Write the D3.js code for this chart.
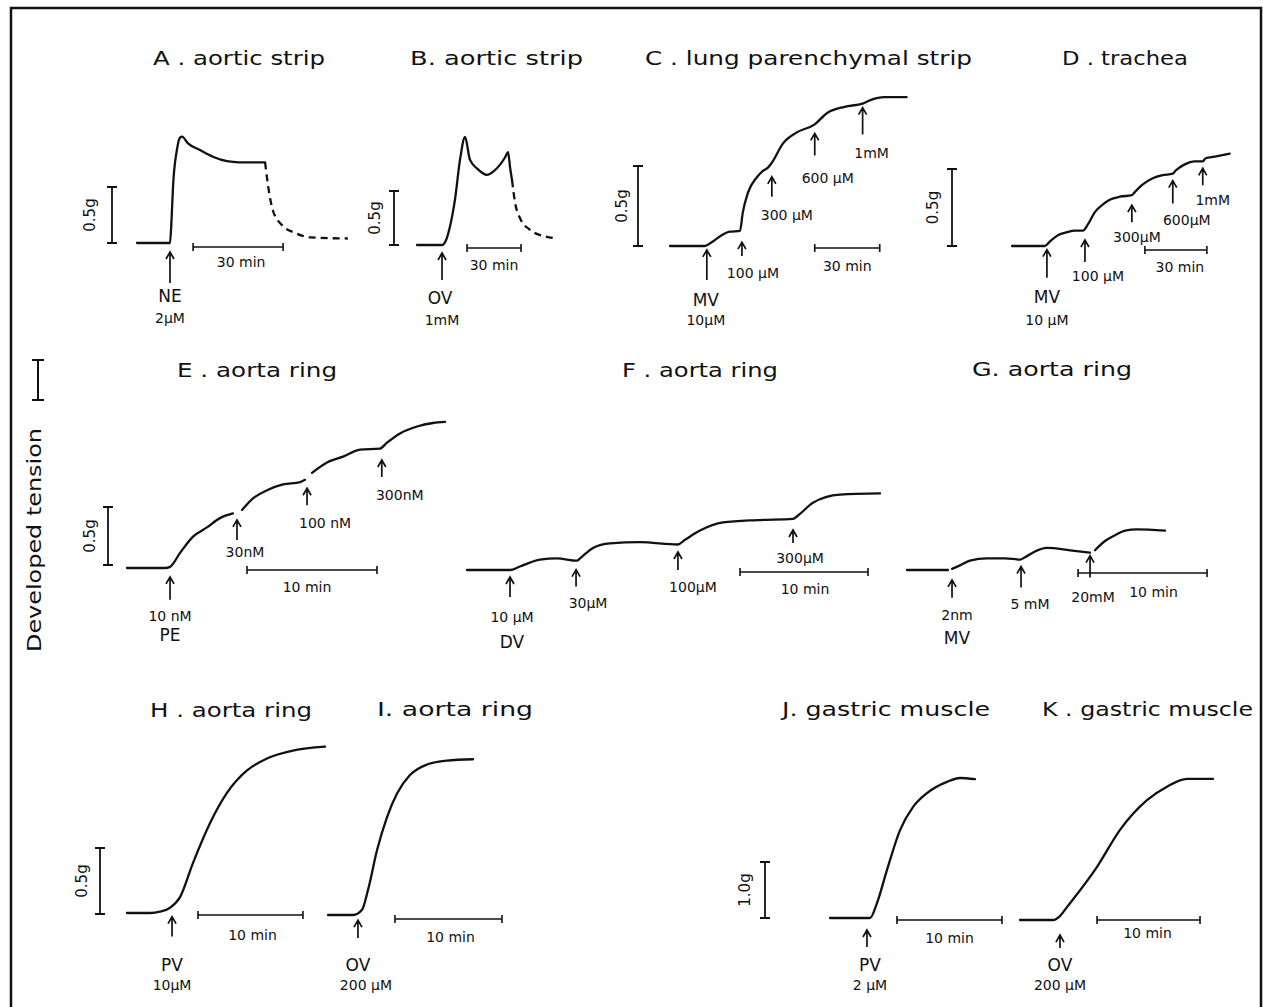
<!DOCTYPE html>
<html>
<head>
<meta charset="utf-8">
<title>Developed tension traces</title>
<script src="https://cdn.jsdelivr.net/npm/d3@7"></script>
<style>
  body { margin: 0; background: #fff; }
  svg text { font-family: "DejaVu Sans", sans-serif; fill: #111; }
</style>
</head>
<body>
<script>
// traces: [minutes from trace start, grams above baseline]
var traceA = [[0,0],[11,0],[11.5,0.2],[12,0.5],[13.3,0.83],[14.3,0.94],[15,0.95],[17,0.89],[21,0.83],[25.3,0.77],[30,0.73],[34,0.72],[42.7,0.72]];
var traceADash = [[42.7,0.72],[43.7,0.51],[45.3,0.29],[48.3,0.16],[52.7,0.09],[57.7,0.05],[70.3,0.04]];
var traceB = [[0,0],[13.9,0],[16,0.04],[18.3,0.17],[21.1,0.42],[23.9,0.79],[26.7,1.0],[29.4,0.79],[33.3,0.71],[38.9,0.65],[44.4,0.71],[48.9,0.81],[50.6,0.86],[51.7,0.72],[52.8,0.6]];
var traceBDash = [[52.8,0.6],[54.4,0.4],[57.2,0.25],[62.8,0.14],[71.1,0.08],[77.8,0.06]];
var traceC = [[0,0],[16.1,0],[19.4,0.025],[23,0.06],[27.6,0.09],[32.3,0.094],[33.6,0.21],[35.9,0.33],[40.1,0.43],[42.9,0.47],[45.2,0.49],[47,0.52],[52.1,0.64],[58.5,0.71],[66.8,0.76],[72.4,0.83],[80.6,0.87],[88.9,0.89],[92.2,0.91],[99.1,0.93],[109.2,0.93]];
var traceD = [[0,0],[15.9,0],[18.4,0.03],[22.2,0.07],[26.6,0.09],[30.4,0.1],[34.3,0.1],[36.7,0.14],[40.1,0.22],[44,0.27],[47.3,0.3],[52.2,0.32],[58,0.33],[59.4,0.35],[63.3,0.4],[68.1,0.44],[72.9,0.46],[77.8,0.47],[79.2,0.49],[83.6,0.53],[88.4,0.55],[92.3,0.55],[93.7,0.57],[98.1,0.58],[105.3,0.6]];
var traceE1 = [[0,0],[2.92,0],[3.31,0.01],[4.08,0.13],[5.08,0.27],[6.15,0.35],[7.15,0.43],[8.15,0.47]];
var traceE2 = [[8.85,0.5],[9.69,0.6],[10.77,0.67],[12,0.72],[13.31,0.74],[13.69,0.76]];
var traceE3 = [[14.23,0.82],[15.38,0.91],[16.62,0.96],[17.92,1.02],[19.46,1.03],[20,1.08],[21,1.16],[22.31,1.22],[23.54,1.25],[24.46,1.26]];
var traceF = [[0,0],[3.36,0],[4.14,0.03],[5.7,0.09],[7.03,0.1],[8.59,0.08],[8.83,0.1],[9.84,0.19],[11.17,0.23],[13.52,0.24],[16.48,0.22],[17.03,0.26],[18.2,0.34],[20,0.41],[22.66,0.43],[25.47,0.44],[25.86,0.47],[27.03,0.58],[29.14,0.65],[32.27,0.66]];
var traceG1 = [[0,0],[3.18,0]];
var traceG2 = [[3.49,0.01],[4.11,0.04],[4.88,0.08],[6.2,0.1],[7.6,0.1],[8.76,0.09],[9.15,0.11],[9.92,0.16],[10.85,0.19],[12.64,0.17],[14.19,0.15]];
var traceG3 = [[14.57,0.17],[15.35,0.25],[16.12,0.3],[16.9,0.34],[17.83,0.35],[20,0.34]];
var traceH = [[0,0],[2.2,0],[3.14,0.01],[4.1,0.04],[5.05,0.12],[6.29,0.38],[7.9,0.68],[9.52,0.91],[11.43,1.08],[13.33,1.17],[15.81,1.23],[18.86,1.26]];
var traceI = [[0,0],[2.34,0],[3.18,0.04],[3.74,0.19],[4.58,0.49],[5.51,0.74],[6.45,0.92],[7.66,1.06],[9.25,1.14],[11.12,1.17],[13.55,1.18]];
var traceJ = [[0,0],[3.81,0],[4.48,0.27],[5.43,0.86],[6.67,1.57],[7.9,1.98],[9.24,2.23],[11.14,2.43],[12.38,2.5],[13.81,2.48]];
var traceK = [[0,0],[3.2,0],[3.88,0.07],[4.56,0.23],[7.48,0.95],[9.71,1.61],[12.33,2.14],[14.27,2.38],[16.21,2.52],[18.74,2.52]];

// drug additions: time (min) and label lines
var dosesA = [{t: 11, text: ["NE", "2µM"]}];
var dosesB = [{t: 13.9, text: ["OV", "1mM"]}];
var dosesC = [{t: 17, text: ["MV", "10µM"]}, {t: 33.2, text: ["100 µM"]}, {t: 47, text: ["300 µM"]}, {t: 66.8, text: ["600 µM"]}, {t: 88.9, text: ["1mM"]}];
var dosesD = [{t: 16.9, text: ["MV", "10 µM"]}, {t: 35.3, text: ["100 µM"]}, {t: 58, text: ["300µM"]}, {t: 77.8, text: ["600µM"]}, {t: 92.3, text: ["1mM"]}];
var dosesE = [{t: 3.31, text: ["10 nM", "PE"]}, {t: 8.46, text: ["30nM"]}, {t: 13.85, text: ["100 nM"]}, {t: 19.6, text: ["300nM"]}];
var dosesF = [{t: 3.36, text: ["10 µM", "DV"]}, {t: 8.52, text: ["30µM"]}, {t: 16.48, text: ["100µM"]}, {t: 25.47, text: ["300µM"]}];
var dosesG = [{t: 3.49, text: ["2nm", "MV"]}, {t: 8.84, text: ["5 mM"]}, {t: 14.19, text: ["20mM"]}];
var dosesH = [{t: 4.29, text: ["PV", "10µM"]}];
var dosesI = [{t: 2.8, text: ["OV", "200 µM"]}];
var dosesJ = [{t: 3.52, text: ["PV", "2 µM"]}];
var dosesK = [{t: 3.88, text: ["OV", "200 µM"]}];

// calibration: minutes of each time bar, grams of each tension bar
var timeBarMin = {A: 30, B: 30, C: 30, D: 30, E: 10, F: 10, G: 10, H: 10, I: 10, J: 10, K: 10};
var tensionG = {A: 0.5, B: 0.5, C: 0.5, D: 0.5, E: 0.5, F: 0.5, G: 0.5, H: 0.5, I: 0.5, J: 1.0, K: 1.0};

var titles = {
  A: "A . aortic strip", B: "B. aortic strip", C: "C . lung parenchymal strip", D: "D . trachea",
  E: "E . aorta ring", F: "F . aorta ring", G: "G. aorta ring",
  H: "H . aorta ring", I: "I. aorta ring", J: "J. gastric muscle", K: "K . gastric muscle"
};

// page layout of each panel
var panels = [
  {id: "A", x0: 137, y0: 243, mPx: 90, gPx: 56, title: [153, 65, 172], traces: [traceA], dashed: [traceADash], doses: dosesA,
   arrows: [[9, 31, [[0, 13], [0, 35]]]], tbar: [18.7, 4, 3, 15], gbar: [112, 0, 90]},
  {id: "B", x0: 417, y0: 245, mPx: 54, gPx: 54, title: [410, 65, 173], traces: [traceB], dashed: [traceBDash], doses: dosesB,
   arrows: [[8, 27, [[-2, 18], [0, 40]]]], tbar: [27.8, 3, 0, 17], gbar: [394, 0, 375]},
  {id: "C", x0: 670, y0: 246, mPx: 65, gPx: 80, title: [645, 65, 327], traces: [traceC], dashed: [], doses: dosesC,
   arrows: [[5, 30, [[-1, 20], [-1, 40]]], [24, 14, [[11, 17]]], [14, 20, [[15, 18]]], [9, 22, [[13, 23]]], [4, 27, [[9, 18]]]],
   tbar: [66.8, 2, 0, 18], gbar: [638, 0, 622]},
  {id: "D", x0: 1012, y0: 246, mPx: 62, gPx: 77, title: [1062, 65, 126], traces: [traceD], dashed: [], doses: dosesD,
   arrows: [[5.5, 28, [[0, 19], [0, 42]]], [12, 22, [[13, 14]]], [10, 17, [[5, 15]]], [7, 23, [[14, 16]]], [7, 17, [[10, 15]]]],
   tbar: [64.3, 4, 4, 17], gbar: [952, 0, 933]},
  {id: "E", x0: 127, y0: 568, mPx: 130, gPx: 58, title: [177, 377, 160], traces: [traceE1, traceE2, traceE3], dashed: [], doses: dosesE,
   arrows: [[10, 23, [[0, 16], [0, 35]]], [8, 20, [[8, 12]]], [10.5, 17, [[18, 18]]], [13, 17, [[18, 18]]]],
   tbar: [9.23, 2, -5, 17], gbar: [108, -3, 90]},
  {id: "F", x0: 467, y0: 570, mPx: 128, gPx: 58, title: [622, 377, 156], traces: [traceF], dashed: [], doses: dosesF,
   arrows: [[7, 20, [[2, 20], [2, 45]]], [9, 17, [[12, 16]]], [7.5, 18, [[15, 17]]], [11, 13, [[7, 15]]]],
   tbar: [21.33, 2, 1, 17]},
  {id: "G", x0: 907, y0: 570, mPx: 129, gPx: 58, title: [972, 376, 160], traces: [traceG1, traceG2, traceG3], dashed: [], doses: dosesG,
   arrows: [[11, 18, [[5, 17], [5, 40]]], [7.5, 21, [[9, 16]]], [3, 22, [[3, 19]]]],
   tbar: [13.26, 3, 11, 19]},
  {id: "H", x0: 127, y0: 913, mPx: 105, gPx: 66, title: [150, 717, 162], traces: [traceH], dashed: [], doses: dosesH,
   arrows: [[11, 20, [[0, 28], [0, 48]]]], tbar: [6.76, 2, 2, 20], gbar: [100, 1, 82]},
  {id: "I", x0: 328, y0: 915, mPx: 107, gPx: 66, title: [377, 716, 156], traces: [traceI], dashed: [], doses: dosesI,
   arrows: [[8, 18, [[0, 27], [8, 47]]]], tbar: [6.26, 4, 2, 18]},
  {id: "J", x0: 830, y0: 918, mPx: 105, gPx: 56, title: [782, 716, 208], traces: [traceJ], dashed: [], doses: dosesJ,
   arrows: [[12, 17, [[3, 18], [3, 38]]]], tbar: [6.38, 2, 0, 18], gbar: [765, 0, 745]},
  {id: "K", x0: 1020, y0: 920, mPx: 103, gPx: 56, title: [1042, 716, 211], traces: [traceK], dashed: [], doses: dosesK,
   arrows: [[19, 13, [[0, 17], [0, 37]]]], tbar: [7.48, 0, -1, 13]}
];

var W = 1263, H = 1007;
var svg = d3.select("body").append("svg")
    .attr("width", W)
    .attr("height", H);

svg.append("rect").attr("width", W).attr("height", H).attr("fill", "#fff");

// frame round the figure
svg.append("path")
    .attr("d", "M11,1010V8H1261V1010")
    .attr("fill", "none")
    .attr("stroke", "#111")
    .attr("stroke-width", 2.5);

// shared y label with its calibration bar
svg.append("text")
    .attr("transform", "translate(34,540) rotate(-90)")
    .attr("text-anchor", "middle")
    .attr("dominant-baseline", "central")
    .attr("textLength", 224)
    .attr("lengthAdjust", "spacingAndGlyphs")
    .style("font-size", "20px")
    .text("Developed tension");
svg.append("path")
    .attr("d", "M38,360V400M32,360H44M32,400H44")
    .attr("fill", "none")
    .attr("stroke", "#111")
    .attr("stroke-width", 2);

// tension at time t
function levelAt(traces, t) {
  var all = [];
  traces.forEach(function(tr) { all = all.concat(tr); });
  all.sort(function(a, b) { return a[0] - b[0]; });
  if (t <= all[0][0]) return all[0][1];
  for (var i = 1; i < all.length; i++) {
    if (t <= all[i][0]) {
      var a = all[i - 1], b = all[i];
      var f = (b[0] - a[0]) === 0 ? 0 : (t - a[0]) / (b[0] - a[0]);
      return a[1] + f * (b[1] - a[1]);
    }
  }
  return all[all.length - 1][1];
}

function drawPanel(p) {
  var minRef = timeBarMin[p.id];
  var gRef = tensionG[p.id];

  var x = d3.scaleLinear().domain([0, minRef]).range([p.x0, p.x0 + p.mPx]);
  var y = d3.scaleLinear().domain([0, gRef]).range([p.y0, p.y0 - p.gPx]);

  var line = d3.line()
      .x(function(d) { return x(d[0]); })
      .y(function(d) { return y(d[1]); })
      .curve(d3.curveMonotoneX);

  var g = svg.append("g").attr("class", "panel-" + p.id);

  // title
  g.append("text")
      .attr("x", p.title[0])
      .attr("y", p.title[1])
      .attr("textLength", p.title[2])
      .attr("lengthAdjust", "spacingAndGlyphs")
      .style("font-size", "20px")
      .text(titles[p.id]);

  // recordings
  g.selectAll("path.trace")
      .data(p.traces)
      .enter()
      .append("path")
      .attr("class", "trace")
      .attr("d", line)
      .attr("fill", "none")
      .attr("stroke", "#111")
      .attr("stroke-width", 2.3)
      .attr("stroke-linecap", "round")
      .attr("stroke-linejoin", "round");

  g.selectAll("path.washout")
      .data(p.dashed)
      .enter()
      .append("path")
      .attr("class", "washout")
      .attr("d", line)
      .attr("fill", "none")
      .attr("stroke", "#111")
      .attr("stroke-width", 2.3)
      .attr("stroke-dasharray", "7,5");

  // drug arrows and their labels
  var traces = p.traces.concat(p.dashed);
  p.doses.forEach(function(d, i) {
    var lay = p.arrows[i];
    var ax = x(d.t);
    var tip = y(levelAt(traces, d.t)) + lay[0];
    var tail = tip + lay[1];
    g.append("path")
        .attr("d", "M" + ax + "," + tail + "V" + tip +
                   "M" + (ax - 4) + "," + (tip + 7) + "L" + ax + "," + tip + "L" + (ax + 4) + "," + (tip + 7))
        .attr("fill", "none")
        .attr("stroke", "#111")
        .attr("stroke-width", 1.7);
    d.text.forEach(function(s, k) {
      var big = /^[A-Z]{2}$/.test(s);
      g.append("text")
          .attr("x", ax + lay[2][k][0])
          .attr("y", tail + lay[2][k][1])
          .attr("text-anchor", "middle")
          .attr("dominant-baseline", "central")
          .style("font-size", big ? "17px" : "14px")
          .text(s);
    });
  });

  // time calibration bar
  var tb = p.tbar;
  var xs = x(tb[0]), xe = x(tb[0] + minRef), yb = p.y0 + tb[1];
  g.append("path")
      .attr("d", "M" + xs + "," + yb + "H" + xe +
                 "M" + xs + "," + (yb - 4) + "V" + (yb + 4) +
                 "M" + xe + "," + (yb - 4) + "V" + (yb + 4))
      .attr("fill", "none")
      .attr("stroke", "#111")
      .attr("stroke-width", 1.6);
  g.append("text")
      .attr("x", (xs + xe) / 2 + tb[2])
      .attr("y", yb + tb[3])
      .attr("text-anchor", "middle")
      .attr("dominant-baseline", "central")
      .style("font-size", "14px")
      .text(minRef + " min");

  // tension calibration bar
  if (p.gbar) {
    var bx = p.gbar[0], y1 = y(0) + p.gbar[1], y2 = y(gRef) + p.gbar[1];
    g.append("path")
        .attr("d", "M" + bx + "," + y1 + "V" + y2 +
                   "M" + (bx - 5) + "," + y1 + "H" + (bx + 5) +
                   "M" + (bx - 5) + "," + y2 + "H" + (bx + 5))
        .attr("fill", "none")
        .attr("stroke", "#111")
        .attr("stroke-width", 1.8);
    g.append("text")
        .attr("transform", "translate(" + p.gbar[2] + "," + ((y1 + y2) / 2) + ") rotate(-90)")
        .attr("text-anchor", "middle")
        .attr("dominant-baseline", "central")
        .style("font-size", "15px")
        .text(d3.format(".1f")(gRef) + "g");
  }
}

panels.forEach(drawPanel);
</script>
</body>
</html>
